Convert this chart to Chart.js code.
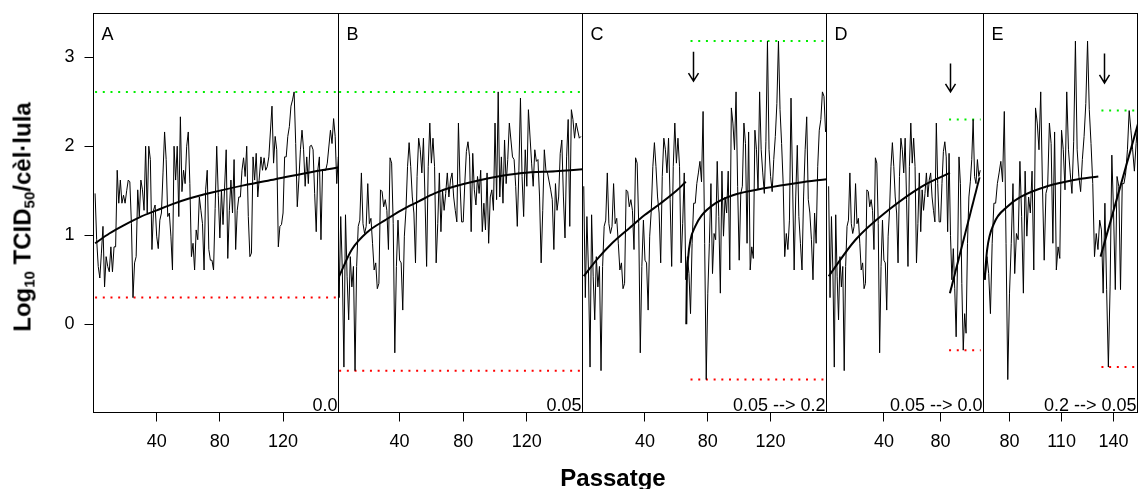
<!DOCTYPE html>
<html>
<head>
<meta charset="utf-8">
<script src="https://cdn.jsdelivr.net/npm/chart.js@4.4.1/dist/chart.umd.min.js"></script>
<style>
  html, body { margin: 0; padding: 0; background: #fff; overflow: hidden; }
  #wrap { position: relative; width: 1138px; height: 489px; font-family: "Liberation Sans", Arial, sans-serif; }
  #wrap canvas { position: absolute; top: 11px; }
  #ytitle {
    position: absolute; left: 23px; top: 217px; white-space: nowrap;
    font-weight: bold; font-size: 24px; color: #000;
    transform: translate(-50%, -50%) rotate(-90deg);
  }
  #ytitle sub { font-size: 15px; vertical-align: -4px; }
  #xtitle {
    position: absolute; left: 613px; top: 478px; white-space: nowrap;
    font-weight: bold; font-size: 24px; color: #000;
    transform: translate(-50%, -50%);
  }
</style>
</head>
<body>
<div id="wrap">
  <canvas id="pA" width="341" height="470" style="left:0px"></canvas>
  <canvas id="pB" width="249" height="470" style="left:336px"></canvas>
  <canvas id="pC" width="249" height="470" style="left:580px"></canvas>
  <canvas id="pD" width="162" height="470" style="left:824px"></canvas>
  <canvas id="pE" width="157" height="470" style="left:981px"></canvas>
  <div id="ytitle">Log<sub>10</sub> TCID<sub>50</sub>/cèl·lula</div>
  <div id="xtitle">Passatge</div>
</div>
<script>
// log10 TCID50 per cell, one value per passage (null = not read)
// panel A (0.0), passages 1..156
const seriesA = [
  1.47, 0.95, 0.65, 0.52, 0.80, 1.10, 0.42, 0.76, 0.65, 0.59,
  0.87, 0.59, 0.87, 0.87, 1.73, 1.36, 1.62, 1.36, 1.45, 1.36,
  1.50, 1.62, 1.60, 1.13, 0.30, 0.69, 0.76, 1.51, 1.21, 1.62,
  1.51, 1.28, 2.00, 1.25, 2.00, 1.85, 0.84, 1.28, 1.34, 0.99,
  0.85, 1.17, 1.25, 1.70, 2.16, 1.85, 1.21, 1.25, 0.99, 0.61,
  2.00, 1.62, 2.00, 1.21, 2.33, 1.49, 1.73, 1.58, 2.00, 2.16,
  1.58, 0.76, 0.91, 0.61, 1.06, 0.95, 1.43, 1.28, 1.13, 0.61,
  1.51, 1.73, 0.84, 0.72, 0.72, 0.61, 1.30, 2.00, 1.45, 0.97,
  1.51, 1.12, null,
  1.96, 0.74, 1.28, 1.62, 1.25, 1.85, 0.84, 1.28, 1.43, 1.43,
  1.73, 1.87, 1.66, 2.00, 1.21, 0.76, 0.80, 1.88, 1.62, 1.92, 1.43,
  null, 1.88, 1.73, 1.87, 1.73, 1.77, 1.88, null,
  2.45, 1.81, 2.11, 1.96, 0.87, 1.10, 1.12, 1.25, 1.88, 1.88,
  2.11, 2.22, 2.45, 2.52, 2.61, 2.03, 1.32, 1.62, 1.96, 2.18,
  1.96, 1.55, 1.88, 1.58, 2.00, 2.01, 1.96, 1.47, 1.04, 1.73,
  1.88, 0.95, 1.73, 1.73, 1.73, 1.81, null,
  2.18, 2.03, 2.31, 2.11, 1.58, 1.88, 1.77
];

// 0.05 lineage shared by B, C and D, passages 1..86
const base005 = [
  1.55, 0.30, 1.21, 0.61, -0.48, 1.23, 0.54, 0.05, 0.76, 0.42,
  0.65, -0.52, 0.65, 1.10, 1.17, 1.70, 1.13, 1.02, 1.10, 1.58,
  1.13, 1.19, 0.91, 0.61, 0.69, 0.40, 0.46, 1.51, 1.49, 1.32,
  1.40, 1.28, 0.84, 1.87, 1.81, 1.13, -0.32, 0.65, 1.17, 0.72,
  0.69, 0.16, 0.99, 1.28, 1.77, 2.04, 1.77, 1.43, 1.25, 0.69,
  1.66, 2.09, 1.96, 1.70, 2.09, 1.40, 0.65, 1.77, 2.26, 1.81,
  2.09, 1.77, 0.69, 1.13, 1.70, 1.04, 1.51, 1.28, 1.47, 1.70,
  1.43, 1.62, 1.70, 1.43, 1.28, 1.15, 2.26, 1.58, 1.15, 1.15,
  1.58, 1.94, 2.05, 1.88, 1.04, 1.92
];

// B continues at 0.05, passages 87..154
const restB = [
  1.51, 1.34, 1.66, 1.47, 1.73, 1.04, 1.36, 1.06, 1.70, 0.91,
  1.43, 1.51, 1.28, 2.26, 1.40, 2.61, 1.43, 1.88, 1.36, 2.07,
  1.58, 1.85, 2.26, 2.07, 1.88, 1.85, 1.55, 1.10, 1.73, 2.54,
  1.66, 1.21, 1.96, 1.55, 2.41, null, 1.81, 1.55, 1.96, 1.83,
  1.85, 1.43, 0.69, 1.28, 1.96, 1.73, 1.70, null, 1.51, 1.40,
  0.84, 1.58, 1.28, 1.43, 1.92, 2.07, 1.43, 0.97, 1.88, 2.30,
  1.10, 2.41, 2.30, 2.09, 2.26, null, 2.09, 2.11
];

// switch to 0.2, shared by C and E, passages 66..131
const shift02 = [
  0.50, 0.76, 0.57, 0.12, 0.91, 1.36, 1.36, 1.58, 1.70, 1.83,
  1.60, 2.39, 0.91, -0.62, 0.35, 0.91, 1.58, 0.57, 1.02, 0.95,
  1.83, 1.21, 0.35, 1.72, 0.99, 1.43, 1.25, 1.72, 0.61, 2.43,
  2.26, 1.96, 2.61, 1.55, 0.72, 1.47, 1.55, 2.26, 2.03, 0.91,
  2.16, 0.61, 0.87, 0.74, 2.18, 1.96, 1.51, 2.61, 1.96, 1.70,
  1.47, 2.05, 3.18, 1.96, 1.66, 1.49, 1.85, 2.11, 2.48, 3.18,
  2.41, 2.03, 1.58, 0.76, 1.02, 0.84
];

// C stays at 0.2, passages 132..155
const restC = [
  1.17, 2.54, 1.58, 0.61, 1.43, 2.01, 1.21, 0.91, 0.61, 1.43,
  1.96, 2.33, 1.40, 1.25, 0.95, 0.50, 1.25, 0.91, 1.77, 2.18,
  2.30, 2.61, 2.56, 2.16
];

// D switches to 0.0, passages 87..108
const restD = [
  1.00, 0.50, 0.85, 0.40, -0.14, 0.72, 1.88, 1.58, 0.46, -0.29,
  0.12, -0.10, 0.91, 1.43, 1.60, 1.85, 2.30, 1.66, 1.58, 1.85,
  1.66, 1.73
];

// E back to 0.05, passages 132..154
const restE = [
  1.17, 1.06, 0.35, 1.36, 0.39, -0.48, 0.42, 1.90, 1.25, 0.39,
  1.66, 1.55, 0.39, 1.58, 1.58, 1.70, 1.96, 2.40, 2.18, 1.96,
  1.72, 2.03, 2.28
];

const seriesB = base005.concat(restB);
const seriesC = base005.slice(0, 65).concat(shift02, restC);
const seriesD = base005.concat(restD);
const seriesE = shift02.concat(restE);
const firstPassage = [1, 1, 1, 1, 66];

// fitted curves
const fitAx = [1, 10, 20, 30, 40, 50, 60, 75, 95, 115, 135, 155];
const fitAy = [0.91, 1.02, 1.12, 1.21, 1.28, 1.35, 1.41, 1.48, 1.56, 1.63, 1.70, 1.76];
const fitBx = [2, 10, 20, 31, 41, 52, 62, 75, 96, 117, 138, 155];
const fitBy = [0.54, 0.84, 1.04, 1.17, 1.28, 1.38, 1.47, 1.55, 1.64, 1.70, 1.72, 1.74];
const fitC1x = [1, 10, 19, 30, 40, 50, 60, 66];
const fitC1y = [0.54, 0.74, 0.91, 1.08, 1.23, 1.36, 1.50, 1.60];
const fitC2x = [66.3, 66.6, 67.5, 69, 72, 76, 85, 96, 117, 138, 155.6];
const fitC2y = [0.0, 0.45, 0.75, 0.95, 1.10, 1.22, 1.36, 1.45, 1.53, 1.59, 1.63];
const fitD1x = [1, 20, 43, 67, 86.6];
const fitD1y = [0.54, 0.95, 1.28, 1.55, 1.70];
const fitD2x = [86.6, 107.5];
const fitD2y = [0.35, 1.65];
const fitE1x = [65.6, 67.1, 71, 78.7, 86.4, 101.7, 117.1, 131.2];
const fitE1y = [0.50, 0.84, 1.13, 1.32, 1.43, 1.55, 1.62, 1.66];
const fitE2x = [132.5, 154.5];
const fitE2y = [0.76, 2.28];

// max / min reference lines (dotted)
const limStart = [1, 2, 69, 86, 133];
const limEnd = [155, 154, 155.6, 108.3, 152.7];
const limHigh = [2.61, 2.61, 3.18, 2.30, 2.40];
const limLow = [0.30, -0.52, -0.62, -0.29, -0.48];

// arrows marking the change of condition: panel, passage, top, tip
const arrowPanel = [2, 3, 4];
const arrowX = [70.4, 86.6, 134.2];
const arrowTop = [3.06, 2.93, 3.04];
const arrowTip = [2.73, 2.61, 2.71];

const panelLetters = ['A', 'B', 'C', 'D', 'E'];
const panelNotes = ['0.0', '0.05', '0.05 --> 0.2', '0.05 --> 0.0', '0.2 --> 0.05'];
const xMin = [0, 1.6, 0.2, -0.5, 65];
const xMax = [155.1, 155, 155.6, 110.3, 153.8];
const xTicks = [[40, 80, 120], [40, 80, 120], [40, 80, 120], [40, 80], [80, 110, 140]];
const yTicks = [0, 1, 2, 3];
const yMin = -0.99, yMax = 3.49;

// layout
const canvasIds = ['pA', 'pB', 'pC', 'pD', 'pE'];
const padLeft = [0, 2.5, 2.5, 2.5, 2.5];
const padRight = [2.5, 2.5, 2.5, 2.5, 0.5];
const FONT = '"Liberation Sans", Arial, sans-serif';

const rawSeries = [seriesA, seriesB, seriesC, seriesD, seriesE];
const fitSets = [
  [[fitAx, fitAy]],
  [[fitBx, fitBy]],
  [[fitC1x, fitC1y], [fitC2x, fitC2y]],
  [[fitD1x, fitD1y], [fitD2x, fitD2y]],
  [[fitE1x, fitE1y], [fitE2x, fitE2y]],
];

function toPoints(xs, ys) {
  return xs.map((x, i) => ({ x: x, y: ys[i] }));
}

const panelDecor = {
  id: 'panelDecor',
  afterDatasetsDraw(chart, args, opts) {
    const { ctx, chartArea: a } = chart;
    const x = chart.scales.x, y = chart.scales.y;
    ctx.save();
    ctx.strokeStyle = '#000';
    ctx.lineWidth = 1;
    ctx.strokeRect(a.left, a.top, a.right - a.left, a.bottom - a.top);
    ctx.fillStyle = '#000';
    ctx.font = '18px ' + FONT;
    ctx.textBaseline = 'alphabetic';
    ctx.textAlign = 'left';
    ctx.fillText(opts.letter, a.left + 8, a.top + 26);
    ctx.textAlign = 'right';
    ctx.fillText(opts.note, a.right - 1, a.bottom - 2);
    (opts.arrows || []).forEach((ar) => {
      const px = Math.round(x.getPixelForValue(ar.x)) + 0.5;
      const t = y.getPixelForValue(ar.top);
      const b = y.getPixelForValue(ar.tip);
      ctx.lineWidth = 1.5;
      ctx.beginPath();
      ctx.moveTo(px, t);
      ctx.lineTo(px, b);
      ctx.moveTo(px - 5, b - 8);
      ctx.lineTo(px, b);
      ctx.lineTo(px + 5, b - 8);
      ctx.stroke();
    });
    ctx.restore();
  }
};

function buildPanel(i) {
  const vals = rawSeries[i];
  const raw = vals.map((v, k) => ({ x: firstPassage[i] + k, y: v }));
  const datasets = [{
    data: raw,
    borderColor: '#000',
    borderWidth: 1,
    pointRadius: 0,
    tension: 0,
    spanGaps: true,
  }];
  fitSets[i].forEach(([fx, fy]) => {
    datasets.push({
      data: toPoints(fx, fy),
      borderColor: '#000',
      borderWidth: 2,
      pointRadius: 0,
      cubicInterpolationMode: 'monotone',
    });
  });
  [[limHigh[i], '#00ee00'], [limLow[i], '#ff0000']].forEach(([lv, col]) => {
    datasets.push({
      data: [{ x: limStart[i], y: lv }, { x: limEnd[i], y: lv }],
      borderColor: col,
      borderWidth: 2,
      borderDash: [2, 5.7],
      pointRadius: 0,
    });
  });

  const arrows = [];
  arrowPanel.forEach((p, k) => {
    if (p === i) arrows.push({ x: arrowX[k], top: arrowTop[k], tip: arrowTip[k] });
  });

  const isFirst = i === 0;
  new Chart(document.getElementById(canvasIds[i]), {
    type: 'line',
    data: { datasets },
    plugins: [panelDecor],
    options: {
      responsive: false,
      animation: false,
      events: [],
      layout: { padding: { left: padLeft[i], right: padRight[i], top: 2.5, bottom: 0 } },
      plugins: {
        legend: { display: false },
        tooltip: { enabled: false },
        panelDecor: { letter: panelLetters[i], note: panelNotes[i], arrows },
      },
      scales: {
        x: {
          type: 'linear',
          min: xMin[i],
          max: xMax[i],
          afterBuildTicks: (ax) => { ax.ticks = xTicks[i].map((v) => ({ value: v })); },
          afterFit: (ax) => { ax.height = 68.5; ax.paddingLeft = 0; ax.paddingRight = 0; },
          border: { display: false },
          grid: { drawOnChartArea: false, drawTicks: true, tickLength: 9, color: '#000', lineWidth: 1 },
          ticks: { color: '#000', font: { family: FONT, size: 18 }, padding: 10, maxRotation: 0, autoSkip: false },
        },
        y: {
          display: isFirst,
          min: yMin,
          max: yMax,
          afterBuildTicks: (ax) => { ax.ticks = yTicks.map((v) => ({ value: v })); },
          afterFit: (ax) => {
            if (isFirst) ax.width = 93.5;
            ax.paddingTop = 0;
            ax.paddingBottom = 0;
          },
          border: { display: false },
          grid: { drawOnChartArea: false, drawTicks: true, tickLength: 9, color: '#000', lineWidth: 1 },
          ticks: { color: '#000', font: { family: FONT, size: 18 }, padding: 10 },
        },
      },
    },
  });
}

[0, 1, 2, 3, 4].forEach(buildPanel);
</script>
</body>
</html>
